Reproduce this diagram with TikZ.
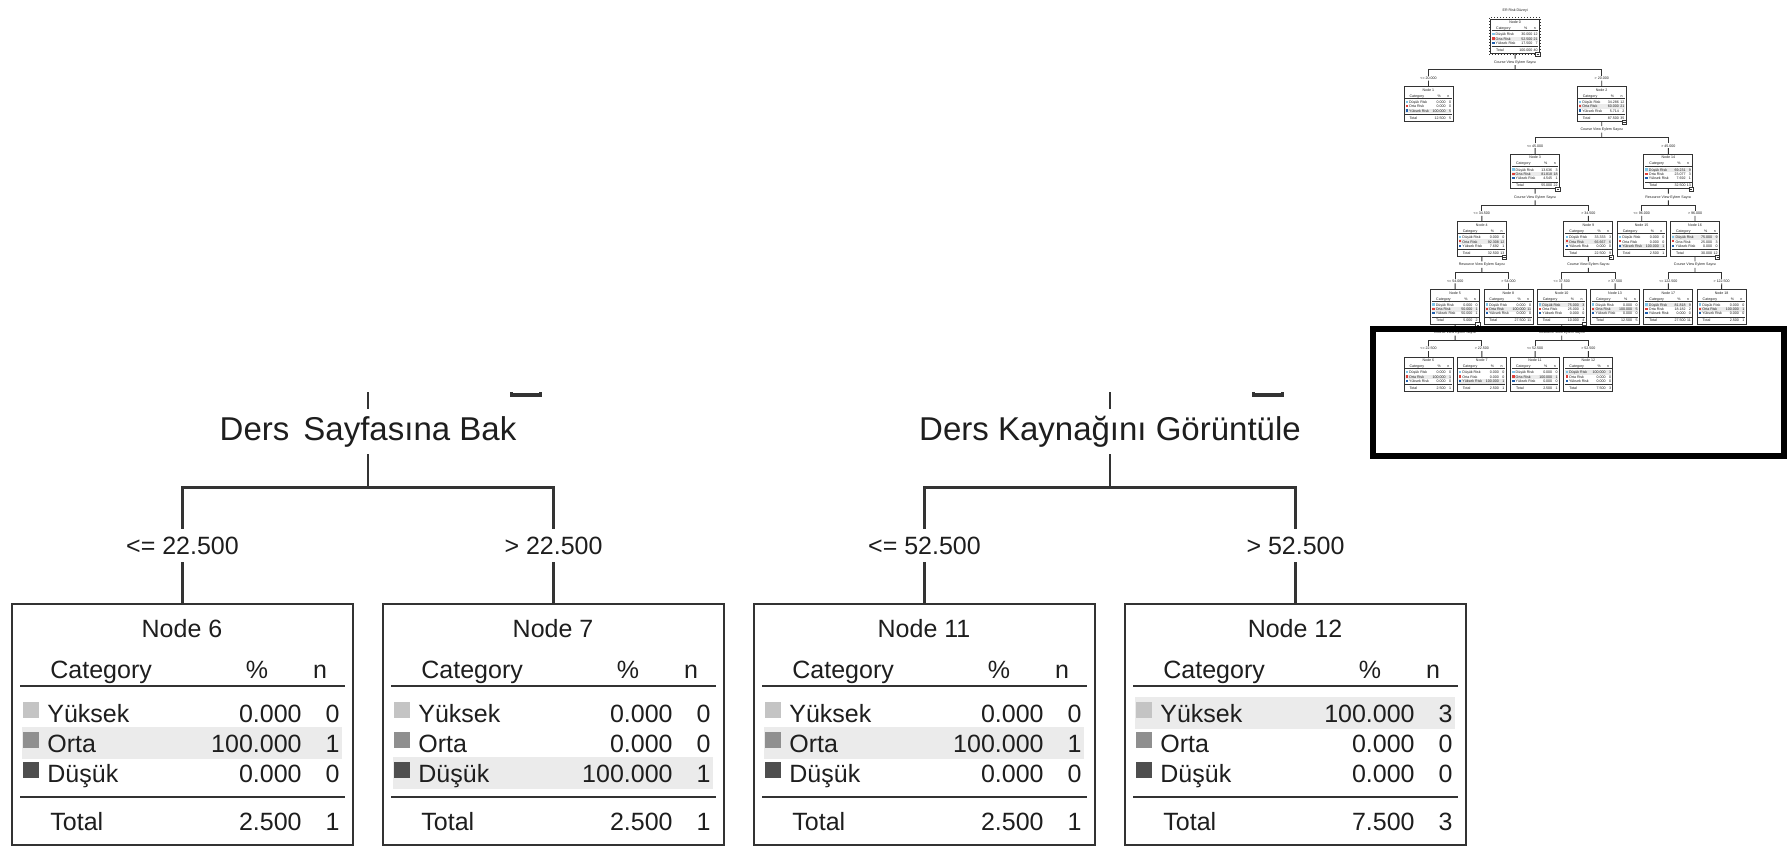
\documentclass[tikz,border=0pt]{standalone}
\usepackage{fontspec}
\setmainfont{Liberation Sans}
\usetikzlibrary{calc}

\definecolor{inkc}{HTML}{1E1E1E}
\definecolor{linec}{HTML}{333333}
\definecolor{hlc}{HTML}{EBEBEB}
\definecolor{gA}{HTML}{C4C4C4}
\definecolor{gB}{HTML}{8F8F8F}
\definecolor{gC}{HTML}{4E4E4E}
\definecolor{rLow}{HTML}{7CC6EC}
\definecolor{rMid}{HTML}{E0403A}
\definecolor{rHigh}{HTML}{1F5FAE}

\newcommand\bodyfont{\fontsize{12.5}{14}\selectfont}
\newcommand\bigfont{\fontsize{16.5}{19}\selectfont}
\newcommand\splitfont{\bodyfont}
\newcommand\lwbox{0.45pt}
\newcommand\lwrule{0.3pt}
\newcommand\lwconn{0.45pt}
\newcommand\lwicon{0.35pt}

\tikzset{
  cell/.style={inner sep=0pt, font=\bodyfont, text=inkc},
  boxnode/.style={draw=linec, fill=white, line width=\lwbox, minimum width=170.5pt,
    minimum height=120.5pt, inner sep=0pt, outer sep=0pt},
  rule/.style={draw=linec, line width=\lwrule},
  conn/.style={draw=linec, line width=\lwconn},
  splitlab/.style={font=\splitfont, text=inkc, inner xsep=1pt, inner ysep=3.5pt,
    text height=12pt, text depth=3.5pt},
  condlab/.style={font=\bodyfont, text=inkc, inner xsep=1pt, inner ysep=3.75pt,
    text height=9pt, text depth=0pt},
  iconbox/.style={draw=linec, fill=white, line width=\lwicon},
  iconmark/.style={draw=linec, line width=\lwicon},
  selring/.style={draw=linec, line width=0.5pt, densely dotted},
}

% Category table box: name, centre x, top y, title, rows, highlighted row,
% total %, total n, collapse icon (1/0)
\newcommand\catbox[9]{%
  \begin{scope}[shift={(#2,#3)}]
    \node[boxnode] (#1) at (0,120.5) {};
    \coordinate (#1b) at (0,241);
    \pgfmathsetmacro\hlbase{88+30*#6}
    \fill[hlc] (-160.5,\hlbase-25) rectangle (159.5,\hlbase+7);
    \node[cell, anchor=base] (#1-ttl) at (-0.5,33) {#4};
    \node[cell, anchor=base west] (#1-hc) at (-132.5,74) {Category};
    \node[cell, anchor=base] (#1-hp) at (74.5,74) {\%};
    \node[cell, anchor=base] (#1-hn) at (137.5,74) {n};
    \draw[rule] (-162.5,82) -- (162.5,82);
    \foreach \lab/\pc/\nn/\sq [count=\r] in {#5} {
      \pgfmathsetmacro\bl{88+30*\r}
      \fill[\sq] (-159.5,\bl-20) rectangle (-143.5,\bl-4);
      \node[cell, anchor=base west] (#1-l\r) at (-135.5,\bl) {\lab};
      \node[cell, anchor=base east] (#1-p\r) at (119.5,\bl) {\pc};
      \node[cell, anchor=base east] (#1-n\r) at (157.5,\bl) {\nn};
    }
    \draw[rule] (-162.5,193) -- (162.5,193);
    \node[cell, anchor=base west] (#1-tl) at (-132.5,226) {Total};
    \node[cell, anchor=base east] (#1-tp) at (119.5,226) {#7};
    \node[cell, anchor=base east] (#1-tn) at (157.5,226) {#8};
    \ifnum#9=1
      \draw[iconbox] (143.5,232.5) rectangle (172.5,261.5);
      \draw[iconmark] (150,247) -- (166,247);
    \fi
  \end{scope}}

% Split: parent, split name, split text, left child, right child, left cond, right cond
\newcommand\fork[7]{%
  \path (#1b) ++(0,57) node[splitlab] (#2) {#3};
  \path (#4.north) ++(0,-58.5) node[condlab] (#2l) {#6};
  \path (#5.north) ++(0,-58.5) node[condlab] (#2r) {#7};
  \path (#2.south) ++(0,33) coordinate (#2bar);
  \draw[conn] (#1b) -- (#2.north);
  \draw[conn] (#2.south) -- (#2bar);
  \draw[conn] (#2l.north) |- (#2bar) -| (#2r.north);
  \draw[conn] (#2l.south) -- (#4.north);
  \draw[conn] (#2r.south) -- (#5.north);}

\begin{document}
\begin{tikzpicture}[x=0.5pt, y=-0.5pt]
\useasboundingbox[fill=white] (0,0) rectangle (1787,847);

% ---------- overview of the whole tree ----------
\begin{scope}[shift={(1404,357)}, scale=0.14368, transform shape]
  \node[cell] (ttl) at (773.4,-2408) {ER Risk Düzeyi};
  \catbox{t0}{773.375}{-2352.5}{Node 0}{Düşük Risk/30.000/12/rLow, Orta Risk/52.500/21/rMid, Yüksek Risk/17.500/7/rHigh}{2}{100.000}{40}{1}
  \path (t0.north west) ++(-8,-8) coordinate (t0ra);
  \path (t0.south east) ++(8,8) coordinate (t0rb);
  \draw[selring] (t0ra) rectangle (t0rb);

  \catbox{t1}{170.5}{-1882}{Node 1}{Düşük Risk/0.000/0/rLow, Orta Risk/0.000/0/rMid, Yüksek Risk/100.000/5/rHigh}{3}{12.500}{5}{0}
  \catbox{t2}{1376.25}{-1882}{Node 2}{Düşük Risk/34.286/12/rLow, Orta Risk/60.000/21/rMid, Yüksek Risk/5.714/2/rHigh}{2}{87.500}{35}{1}

  \catbox{t3}{912.5}{-1411.5}{Node 3}{Düşük Risk/13.636/3/rLow, Orta Risk/81.818/18/rMid, Yüksek Risk/4.545/1/rHigh}{2}{55.000}{22}{1}
  \catbox{t14}{1840}{-1411.5}{Node 14}{Düşük Risk/69.231/9/rLow, Orta Risk/23.077/3/rMid, Yüksek Risk/7.692/1/rHigh}{1}{32.500}{13}{1}

  \catbox{t4}{541.5}{-941}{Node 4}{Düşük Risk/0.000/0/rLow, Orta Risk/92.308/12/rMid, Yüksek Risk/7.692/1/rHigh}{2}{32.500}{13}{1}
  \catbox{t9}{1283.5}{-941}{Node 9}{Düşük Risk/33.333/3/rLow, Orta Risk/66.667/6/rMid, Yüksek Risk/0.000/0/rHigh}{2}{22.500}{9}{1}
  \catbox{t15}{1654.5}{-941}{Node 15}{Düşük Risk/0.000/0/rLow, Orta Risk/0.000/0/rMid, Yüksek Risk/100.000/1/rHigh}{3}{2.500}{1}{0}
  \catbox{t16}{2025.5}{-941}{Node 16}{Düşük Risk/75.000/9/rLow, Orta Risk/25.000/3/rMid, Yüksek Risk/0.000/0/rHigh}{1}{30.000}{12}{1}

  \catbox{t5}{356}{-470.5}{Node 5}{Düşük Risk/0.000/0/rLow, Orta Risk/50.000/1/rMid, Yüksek Risk/50.000/1/rHigh}{2}{5.000}{2}{1}
  \catbox{t8}{727}{-470.5}{Node 8}{Düşük Risk/0.000/0/rLow, Orta Risk/100.000/11/rMid, Yüksek Risk/0.000/0/rHigh}{2}{27.500}{11}{0}
  \catbox{t10}{1098}{-470.5}{Node 10}{Düşük Risk/75.000/3/rLow, Orta Risk/25.000/1/rMid, Yüksek Risk/0.000/0/rHigh}{1}{10.000}{4}{1}
  \catbox{t13}{1469}{-470.5}{Node 13}{Düşük Risk/0.000/0/rLow, Orta Risk/100.000/5/rMid, Yüksek Risk/0.000/0/rHigh}{2}{12.500}{5}{0}
  \catbox{t17}{1840}{-470.5}{Node 17}{Düşük Risk/81.818/9/rLow, Orta Risk/18.182/2/rMid, Yüksek Risk/0.000/0/rHigh}{1}{27.500}{11}{0}
  \catbox{t18}{2211}{-470.5}{Node 18}{Düşük Risk/0.000/0/rLow, Orta Risk/100.000/1/rMid, Yüksek Risk/0.000/0/rHigh}{2}{2.500}{1}{0}

  \catbox{t6}{170.5}{0}{Node 6}{Düşük Risk/0.000/0/rLow, Orta Risk/100.000/1/rMid, Yüksek Risk/0.000/0/rHigh}{2}{2.500}{1}{0}
  \catbox{t7}{541.5}{0}{Node 7}{Düşük Risk/0.000/0/rLow, Orta Risk/0.000/0/rMid, Yüksek Risk/100.000/1/rHigh}{3}{2.500}{1}{0}
  \catbox{t11}{912.5}{0}{Node 11}{Düşük Risk/0.000/0/rLow, Orta Risk/100.000/1/rMid, Yüksek Risk/0.000/0/rHigh}{2}{2.500}{1}{0}
  \catbox{t12}{1283.5}{0}{Node 12}{Düşük Risk/100.000/3/rLow, Orta Risk/0.000/0/rMid, Yüksek Risk/0.000/0/rHigh}{1}{7.500}{3}{0}

  \fork{t0}{f0}{Course View Eylem Sayısı}{t1}{t2}{<= 20.000}{> 20.000}
  \fork{t2}{f2}{Course View Eylem Sayısı}{t3}{t14}{<= 45.000}{> 45.000}
  \fork{t3}{f3}{Course View Eylem Sayısı}{t4}{t9}{<= 34.500}{> 34.500}
  \fork{t14}{f14}{Resource View Eylem Sayısı}{t15}{t16}{<= 96.000}{> 96.000}
  \fork{t4}{f4}{Resource View Eylem Sayısı}{t5}{t8}{<= 54.000}{> 54.000}
  \fork{t9}{f9}{Course View Eylem Sayısı}{t10}{t13}{<= 37.500}{> 37.500}
  \fork{t16}{f16}{Course View Eylem Sayısı}{t17}{t18}{<= 122.500}{> 122.500}
  \fork{t5}{f5}{Course View Eylem Sayısı}{t6}{t7}{<= 22.500}{> 22.500}
  \fork{t10}{f10}{Resource View Eylem Sayısı}{t11}{t12}{<= 52.500}{> 52.500}
\end{scope}

% ---------- enlarged bottom level ----------
\begin{scope}[shift={(12,604)}]
  \def\lwbox{1.25pt}\def\lwrule{1pt}\def\lwconn{1.4pt}\def\lwicon{1.8pt}
  \def\splitfont{\bigfont}
  \clip (-12,-212) rectangle (1775,243);
  \coordinate (e5b) at (356,-229.5);
  \coordinate (e10b) at (1098,-229.5);
  \draw[iconbox] (499.5,-238) rectangle (528.5,-209);
  \draw[iconbox] (1241.5,-238) rectangle (1270.5,-209);

  \catbox{e6}{170.5}{0}{Node 6}{Yüksek/0.000/0/gA, Orta/100.000/1/gB, Düşük/0.000/0/gC}{2}{2.500}{1}{0}
  \catbox{e7}{541.5}{0}{Node 7}{Yüksek/0.000/0/gA, Orta/0.000/0/gB, Düşük/100.000/1/gC}{3}{2.500}{1}{0}
  \catbox{e11}{912.5}{0}{Node 11}{Yüksek/0.000/0/gA, Orta/100.000/1/gB, Düşük/0.000/0/gC}{2}{2.500}{1}{0}
  \catbox{e12}{1283.5}{0}{Node 12}{Yüksek/100.000/3/gA, Orta/0.000/0/gB, Düşük/0.000/0/gC}{1}{7.500}{3}{0}

  \fork{e5}{es5}{Ders\hspace{0.15em} Sayfasına Bak}{e6}{e7}{<= 22.500}{> 22.500}
  \fork{e10}{es10}{Ders Kaynağını Görüntüle}{e11}{e12}{<= 52.500}{> 52.500}
\end{scope}

% frame marking the enlarged part of the overview
\draw[line width=3pt, black] (1373,329) rectangle (1784,455.5);
\end{tikzpicture}
\end{document}
